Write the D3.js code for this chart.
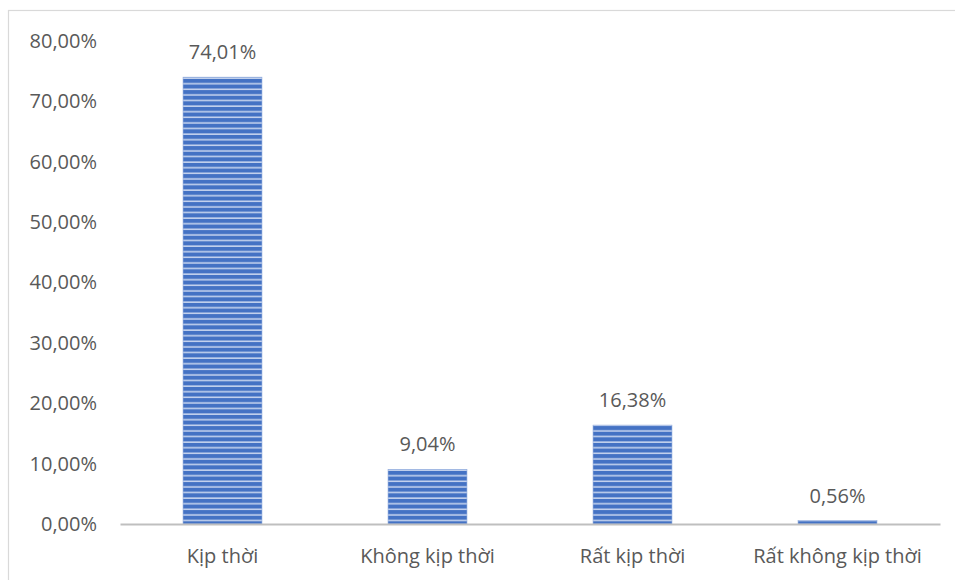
<!DOCTYPE html>
<html>
<head>
<meta charset="utf-8">
<script src="https://cdn.jsdelivr.net/npm/d3@7"></script>
<style>
  html, body { margin: 0; padding: 0; background: #fff; }
  svg { display: block; }
  text { font-family: "Open Sans", "Noto Sans", sans-serif; fill: #595959; }
</style>
</head>
<body>
<svg id="chart" width="955" height="580"></svg>
<script>
// Response shares by category
const categories = ["Kịp thời", "Không kịp thời", "Rất kịp thời", "Rất không kịp thời"];
const values = [74.01, 9.04, 16.38, 0.56];
const valueLabels = ["74,01%", "9,04%", "16,38%", "0,56%"];
const tickValues = [0, 10, 20, 30, 40, 50, 60, 70, 80];
const tickLabels = ["0,00%", "10,00%", "20,00%", "30,00%", "40,00%", "50,00%", "60,00%", "70,00%", "80,00%"];

const svg = d3.select("#chart");
const W = 955, H = 580;
const FS = 20;

// chart frame
svg.append("rect")
  .attr("x", 8.5).attr("y", 10.5)
  .attr("width", W).attr("height", H)
  .attr("fill", "#fff")
  .attr("stroke", "#d9d9d9").attr("stroke-width", 1.2);

// horizontal stripe fill for the bars
const defs = svg.append("defs");
const pat = defs.append("pattern")
  .attr("id", "stripes")
  .attr("patternUnits", "userSpaceOnUse")
  .attr("width", 10).attr("height", 5.6)
  .attr("y", 0.5);
pat.append("rect").attr("width", 10).attr("height", 5.6).attr("fill", "#4472c4");
pat.append("rect").attr("y", 4.1).attr("width", 10).attr("height", 1.5).attr("fill", "#c9d6ef");

const x = d3.scaleBand()
  .domain(categories)
  .range([120, 940])
  .paddingInner(0.615)
  .paddingOuter(0.3075);

const y = d3.scaleLinear()
  .domain([0, 80])
  .range([524, 41]);

// y tick labels (no axis line, no gridlines)
const yAxis = d3.axisLeft(y)
  .tickValues(tickValues)
  .tickFormat((d, i) => tickLabels[i])
  .tickSize(0)
  .tickPadding(0);
const gy = svg.append("g")
  .attr("transform", "translate(97,0)")
  .call(yAxis);
gy.select(".domain").remove();
gy.selectAll("text")
  .attr("font-size", FS)
  .attr("font-family", null)
  .attr("fill", "#595959");

// bars
svg.append("g").selectAll("rect")
  .data(values)
  .join("rect")
  .attr("x", (d, i) => x(categories[i]))
  .attr("y", d => y(d))
  .attr("width", x.bandwidth())
  .attr("height", d => y(0) - y(d))
  .attr("fill", "url(#stripes)")
  .attr("stroke", "#8faadc")
  .attr("stroke-width", 0.6);

// category axis
const xAxis = d3.axisBottom(x).tickSize(0).tickPadding(25);
const gx = svg.append("g")
  .attr("transform", `translate(0,${y(0)})`)
  .call(xAxis);
gx.select(".domain")
  .attr("stroke", "#bfbfbf")
  .attr("stroke-width", 2);
gx.selectAll("text")
  .attr("font-size", FS)
  .attr("font-family", null)
  .attr("fill", "#595959");

// value labels
svg.append("g").selectAll("text")
  .data(values)
  .join("text")
  .attr("x", (d, i) => x(categories[i]) + x.bandwidth() / 2)
  .attr("y", d => y(d) - 18)
  .attr("text-anchor", "middle")
  .attr("font-size", FS)
  .attr("fill", "#404040")
  .text((d, i) => valueLabels[i]);
</script>
</body>
</html>
